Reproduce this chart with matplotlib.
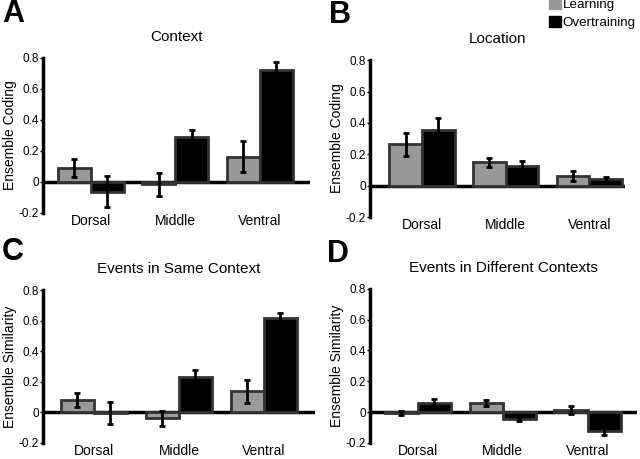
import matplotlib.pyplot as plt
import numpy as np
from matplotlib.patches import Patch

plt.rcParams['font.family'] = ['Liberation Sans', 'DejaVu Sans']

regions = ["Dorsal", "Middle", "Ventral"]

# panel A - context coding
context_learn = [0.09, -0.015, 0.164]
context_learn_err = [0.056, 0.075, 0.10]
context_over = [-0.064, 0.29, 0.72]
context_over_err = [0.10, 0.045, 0.053]

# panel B - location coding
location_learn = [0.264, 0.149, 0.06]
location_learn_err = [0.072, 0.03, 0.033]
location_over = [0.355, 0.123, 0.041]
location_over_err = [0.075, 0.033, 0.015]

# panel C - events in same context
same_learn = [0.082, -0.039, 0.138]
same_learn_err = [0.047, 0.047, 0.077]
same_over = [-0.005, 0.234, 0.618]
same_over_err = [0.07, 0.043, 0.03]

# panel D - events in different contexts
diff_learn = [-0.005, 0.058, 0.015]
diff_learn_err = [0.015, 0.02, 0.025]
diff_over = [0.058, -0.045, -0.12]
diff_over_err = [0.025, 0.01, 0.03]

fig = plt.figure(figsize=(6.4, 4.59), dpi=100)

# letter, title, ylabel, axes rect, xlim, letter pos, data
panels = [
    ("A", "Context", "Ensemble Coding", [0.067, 0.536, 0.417, 0.338], (-0.565, 2.59), (0.003, 0.97),
     context_learn, context_learn_err, context_over, context_over_err),
    ("B", "Location", "Ensemble Coding", [0.578, 0.527, 0.398, 0.342], (-0.62, 2.42), (0.514, 0.967),
     location_learn, location_learn_err, location_over, location_over_err),
    ("C", "Events in Same Context", "Ensemble Similarity", [0.067, 0.035, 0.425, 0.333], (-0.6, 2.6), (0.003, 0.451),
     same_learn, same_learn_err, same_over, same_over_err),
    ("D", "Events in Different Contexts", "Ensemble Similarity", [0.578, 0.035, 0.417, 0.336], (-0.565, 2.58), (0.511, 0.447),
     diff_learn, diff_learn_err, diff_over, diff_over_err),
]

x = np.arange(len(regions))
w = 0.39
for letter, title, ylab, pos, xl, lpos, lv, le, ov, oe in panels:
    ax = fig.add_axes(pos)
    ax.bar(x - w / 2, lv, w, color="#999999", edgecolor="#333333", linewidth=2, zorder=2)
    ax.bar(x + w / 2, ov, w, color="black", edgecolor="#333333", linewidth=2, zorder=2)
    ax.errorbar(x - w / 2, lv, yerr=le, fmt="none", ecolor="black", elinewidth=2,
                capsize=2.5, capthick=2, zorder=3)
    ax.errorbar(x + w / 2, ov, yerr=oe, fmt="none", ecolor="black", elinewidth=2,
                capsize=2.5, capthick=2, zorder=3)
    ax.axhline(0, color="black", linewidth=2.5, zorder=1)
    ax.set_xlim(xl)
    ax.set_ylim(-0.2, 0.8)
    ax.set_yticks([-0.2, 0, 0.2, 0.4, 0.6, 0.8])
    ax.set_yticklabels(["-0.2", "0", "0.2", "0.4", "0.6", "0.8"])
    ax.set_xticks(x)
    ax.set_xticklabels(regions, fontsize=10)
    ax.tick_params(axis="x", length=0, pad=1)
    ax.tick_params(axis="y", labelsize=8.5, length=2, width=1, pad=1)
    for s in ["top", "right", "bottom"]:
        ax.spines[s].set_visible(False)
    ax.spines["left"].set_linewidth(2.5)
    ax.set_ylabel(ylab, fontsize=10, labelpad=1)
    ax.set_title(title, fontsize=11, pad=12)
    fig.text(lpos[0], lpos[1], letter, fontsize=22, fontweight="bold",
             va="center", ha="left")

handles = [Patch(facecolor="#999999", edgecolor="#999999"),
           Patch(facecolor="black", edgecolor="black")]
fig.legend(handles, ["Learning", "Overtraining"], loc="upper right",
           bbox_to_anchor=(1.012, 1.03), frameon=False, fontsize=9.6,
           handlelength=0.9, handleheight=0.9, handletextpad=0.15, labelspacing=0.35)

fig.savefig("out.png", dpi=100)
